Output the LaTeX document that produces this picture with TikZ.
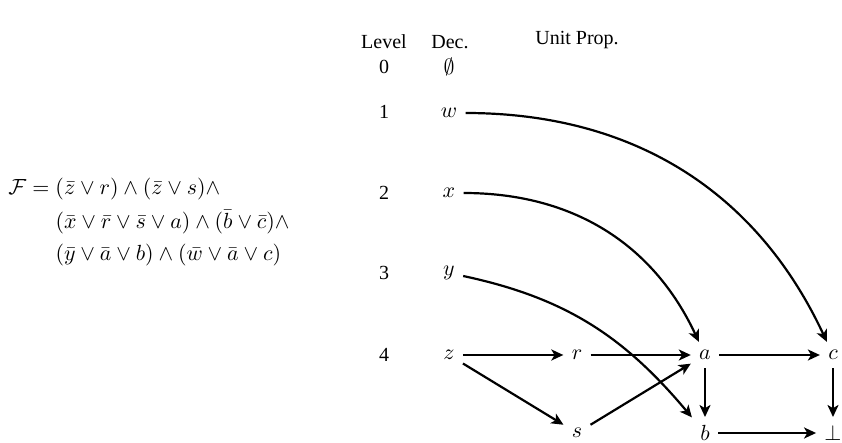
\documentclass[tikz,border=0pt]{standalone}
\usepackage{amsmath}
\usepackage{fontspec}
\newfontfamily\tms{Liberation Serif}
\usetikzlibrary{arrows.meta}
\begin{document}
\begin{tikzpicture}[x=0.5pt,y=-0.5pt,
  v/.style={inner sep=4pt,font=\fontsize{10.8}{13}\selectfont},
  lab/.style={font=\tms},
  arr/.style={-{Stealth[length=6pt,width=5.5pt,inset=1.6pt]}, line width=1.1pt}]
\useasboundingbox (0,0) rectangle (842,443);
% headers
\node[lab] (hlev) at (384,42) {Level};
\node[lab] (hdec) at (450,42) {Dec.};
\node[lab] (hup) at (577,40) {Unit Prop.};
% level numbers
\node[lab] (l0) at (384,67) {0};
\node[lab] (l1) at (384,112) {1};
\node[lab] (l2) at (384,193) {2};
\node[lab] (l3) at (384,273) {3};
\node[lab] (l4) at (384,355) {4};
% decisions
\node[v] (e) at (449,67) {$\emptyset$};
\node[v] (w) at (449,113) {$w$};
\node[v] (x) at (449,193) {$x$};
\node[v] (y) at (449,273) {$y$};
\node[v] (z) at (449,355) {$z$};
% unit propagation
\node[v] (r) at (577,355) {$r$};
\node[v] (s) at (577,433) {$s$};
\node[v] (a) at (705,355) {$a$};
\node[v] (b) at (705,433) {$b$};
\node[v] (c) at (833,355) {$c$};
\node[v] (f) at (833,433) {$\bot$};
% formula
\node[anchor=west,inner sep=0pt,font=\fontsize{10.8}{13}\selectfont] (F) at (8,222) {$\begin{aligned}
\mathcal{F} = {}& (\bar z\lor r)\land(\bar z\lor s)\land\\
& (\bar x\lor\bar r\lor\bar s\lor a)\land(\bar b\lor\bar c)\land\\
& (\bar y\lor\bar a\lor b)\land(\bar w\lor\bar a\lor c)
\end{aligned}$};
% edges
\draw[arr] (z) -- (r);
\draw[arr] (z) -- (s);
\draw[arr] (r) -- (a);
\draw[arr] (s) -- (a);
\draw[arr] (a) -- (c);
\draw[arr] (a) -- (b);
\draw[arr] (c) -- (f);
\draw[arr] (b) -- (f);
\draw[arr] (w) to[out=0,in=115] (c);
\draw[arr] (x) to[out=0,in=115] (a);
\draw[arr] (y) to[out=-12,in=130] (b);
\end{tikzpicture}
\end{document}
